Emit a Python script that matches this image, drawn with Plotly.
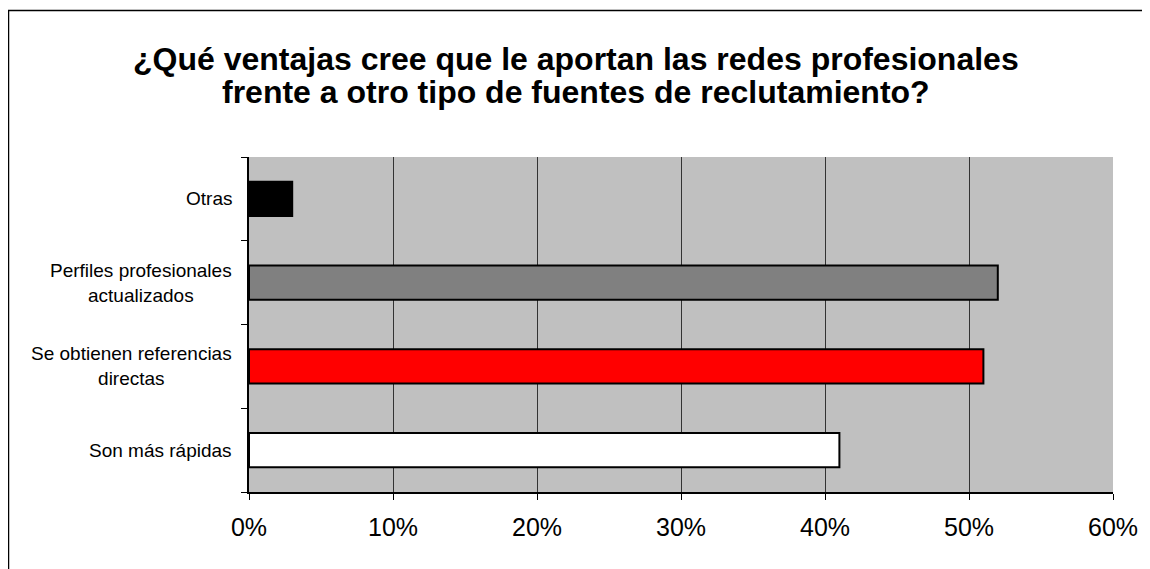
import plotly.graph_objects as go

categories = ["Son más rápidas", "Se obtienen referencias directas",
              "Perfiles profesionales actualizados", "Otras"]
tick_labels = ["Son más rápidas", "Se obtienen referencias<br>directas",
               "Perfiles profesionales<br>actualizados", "Otras"]
values = [0.41, 0.51, 0.52, 0.03]
bar_colors = ["#FFFFFF", "#FF0000", "#808080", "#000000"]
x_ticks = [0, 0.1, 0.2, 0.3, 0.4, 0.5, 0.6]
x_tick_text = ["0%", "10%", "20%", "30%", "40%", "50%", "60%"]
title_lines = ["¿Qué ventajas cree que le aportan las redes profesionales",
               "frente a otro tipo de fuentes de reclutamiento?"]

FONT = "Liberation Sans, Arial, sans-serif"

# page body has an 8px margin: the figure starts at window pixel (8, 8)
OFF = 8
PL, PT, PR, PB = 249, 157, 1113, 492   # plot area in window pixels
PW, PH = PR - PL, PB - PT


def px_x(x):
    return (x - PL) / PW


def px_y(y):
    return (PB - y) / PH


fig = go.Figure()
fig.add_trace(go.Bar(
    y=categories, x=values, orientation="h",
    marker=dict(color=bar_colors, line=dict(color="#000000", width=2)),
    hoverinfo="skip",
))

for cat, lab in zip(categories, tick_labels):
    fig.add_annotation(
        x=px_x(234), xref="paper", y=cat, yref="y",
        text=lab, showarrow=False, xanchor="right", yanchor="middle",
        align="center", font=dict(family=FONT, size=19, color="#000000"),
    )

for line, cy in zip(title_lines, [59, 92]):
    fig.add_annotation(
        x=px_x(576), xref="paper", y=px_y(cy), yref="paper",
        text="<b>" + line + "</b>", showarrow=False,
        xanchor="center", yanchor="middle",
        font=dict(family=FONT, size=32, color="#000000"),
    )

# outer chart border (extends beyond the visible window on right/bottom)
fig.add_shape(
    type="rect", xref="paper", yref="paper",
    x0=px_x(8.5), x1=1.3, y0=-0.6, y1=px_y(10.5),
    line=dict(color="#000000", width=1.5), fillcolor="rgba(0,0,0,0)",
    layer="below",
)

fig.update_layout(
    width=1150 - OFF, height=569 - OFF,
    margin=dict(l=PL - OFF, r=1150 - PR, t=PT - OFF, b=569 - PB),
    paper_bgcolor="#FFFFFF", plot_bgcolor="#C0C0C0",
    showlegend=False, bargap=0.59,
    font=dict(family=FONT, color="#000000"),
)
fig.update_xaxes(
    range=[0, 0.6], tickvals=x_ticks, ticktext=x_tick_text,
    showgrid=True, gridcolor="#333333", gridwidth=1,
    showline=True, linecolor="#000000", linewidth=1.5,
    ticks="outside", ticklen=6, tickcolor="#000000", tickwidth=1,
    tickfont=dict(family=FONT, size=25, color="#000000"),
    ticklabelstandoff=6, zeroline=False, fixedrange=True,
)
fig.update_yaxes(
    type="category", categoryorder="array", categoryarray=categories,
    showticklabels=False, tickson="boundaries",
    ticks="outside", ticklen=6, tickcolor="#000000", tickwidth=1,
    showline=True, linecolor="#000000", linewidth=1.5,
    showgrid=False, zeroline=False, fixedrange=True,
)

fig.write_html("out.html")
